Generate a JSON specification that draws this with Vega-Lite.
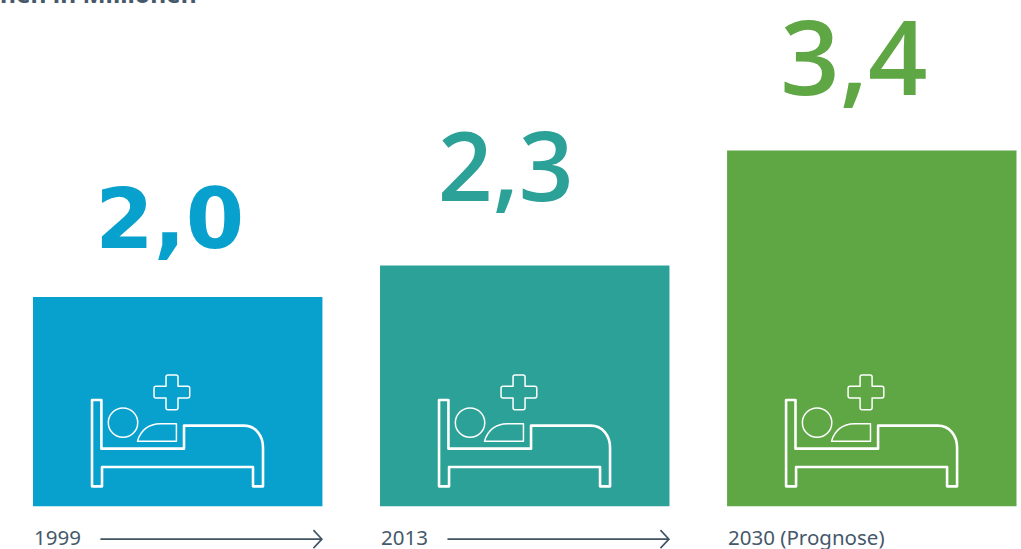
{
  "$schema": "https://vega.github.io/schema/vega-lite/v6.json",
  "width": 1021,
  "height": 549,
  "padding": 0,
  "autosize": "none",
  "background": "white",
  "config": {"view": {"stroke": null}},
  "data": {
    "values": [
      {"period": "1999", "value": 2.0, "label": "2,0", "caption": "1999"},
      {"period": "2013", "value": 2.3, "label": "2,3", "caption": "2013"},
      {"period": "2030", "value": 3.4, "label": "3,4", "caption": "2030 (Prognose)"}
    ]
  },
  "encoding": {
    "x": {
      "field": "period",
      "type": "nominal",
      "axis": null,
      "scale": {"domain": ["1999", "2013", "2030"], "range": [33, 1016.5], "paddingInner": 0.166, "paddingOuter": 0}
    }
  },
  "layer": [
    {
      "mark": {"type": "bar"},
      "encoding": {
        "y": {
          "field": "value",
          "type": "quantitative",
          "axis": null,
          "scale": {"domain": [-0.41, 4.84], "range": [549, 0], "nice": false, "zero": false}
        },
        "color": {
          "field": "period",
          "type": "nominal",
          "legend": null,
          "scale": {"domain": ["1999", "2013", "2030"], "range": ["#08a0cd", "#2ca197", "#5fa645"]}
        }
      }
    },
    {
      "transform": [{"filter": "datum.period === '1999'"}],
      "mark": {"type": "text", "font": "DejaVu Sans", "fontWeight": "bold", "fontSize": 84, "align": "center", "baseline": "alphabetic", "dx": -8, "dy": -49, "color": "#08a0cd"},
      "encoding": {"y": {"field": "value", "type": "quantitative"}, "text": {"field": "label"}}
    },
    {
      "transform": [{"filter": "datum.period === '2013'"}],
      "mark": {"type": "text", "font": "Open Sans", "fontWeight": 600, "fontSize": 96, "align": "center", "baseline": "alphabetic", "dx": -19, "dy": -65, "color": "#2ca197"},
      "encoding": {"y": {"field": "value", "type": "quantitative"}, "text": {"field": "label"}}
    },
    {
      "transform": [{"filter": "datum.period === '2030'"}],
      "mark": {"type": "text", "font": "Open Sans", "fontWeight": 600, "fontSize": 104, "align": "center", "baseline": "alphabetic", "dx": -18, "dy": -56, "color": "#5fa645"},
      "encoding": {"y": {"field": "value", "type": "quantitative"}, "text": {"field": "label"}}
    },
    {
      "mark": {"type": "point", "size": 4, "filled": false, "opacity": 1, "stroke": "white", "strokeWidth": 2.6, "strokeJoin": "round",
        "shape": "M-85.7,-31.3H-76.3V17.3H6.3V-5.7H66C77.7,-5.7 85.3,4 85.3,16.3V55H75.3V35.7H-75.7V55H-85.7Z"},
      "encoding": {"y": {"datum": 0.715, "type": "quantitative"}}
    },
    {
      "mark": {"type": "point", "size": 4, "filled": false, "opacity": 1, "stroke": "white", "strokeWidth": 1.5, "strokeJoin": "round",
        "shape": "M-69.4,-8.7a14.7,14.7 0 1,0 29.4,0a14.7,14.7 0 1,0 -29.4,0ZM-40.3,10C-37.3,-1 -29,-7.7 -17.3,-7.7H-1.3V10ZM-11.7,-54.3q0,-2 2,-2h8q2,0 2,2V-45H10q2,0 2,2v7.7q0,2 -2,2H0.3V-23.7q0,2 -2,2h-8q-2,0 -2,-2V-33.3H-21.7q-2,0 -2,-2V-43q0,-2 2,-2H-11.7Z"},
      "encoding": {"y": {"datum": 0.715, "type": "quantitative"}}
    },
    {
      "mark": {"type": "text", "font": "Noto Sans", "fontSize": 20.5, "align": "left", "baseline": "alphabetic", "dx": 1, "color": "#46586a"},
      "encoding": {
        "x": {"field": "period", "type": "nominal", "bandPosition": 0},
        "y": {"datum": -0.37, "type": "quantitative"},
        "text": {"field": "caption"}
      }
    },
    {
      "transform": [{"filter": "datum.period !== '2030'"}],
      "mark": {"type": "point", "size": 4, "filled": false, "opacity": 1, "stroke": "#3f5362", "strokeWidth": 1.6,
        "shape": "M-222,0H-0.5M-9,-9L-0.5,0L-9,9"},
      "encoding": {
        "x": {"field": "period", "type": "nominal", "bandPosition": 1},
        "y": {"datum": -0.316, "type": "quantitative"}
      }
    },
    {
      "transform": [{"filter": "datum.period === '1999'"}],
      "mark": {"type": "text", "font": "Noto Sans", "fontWeight": "bold", "fontSize": 24.5, "align": "left", "baseline": "alphabetic", "dx": -33, "color": "#46586a"},
      "encoding": {
        "x": {"field": "period", "type": "nominal", "bandPosition": 0},
        "y": {"datum": 4.81, "type": "quantitative"},
        "text": {"value": "nen in Millionen"}
      }
    }
  ]
}
